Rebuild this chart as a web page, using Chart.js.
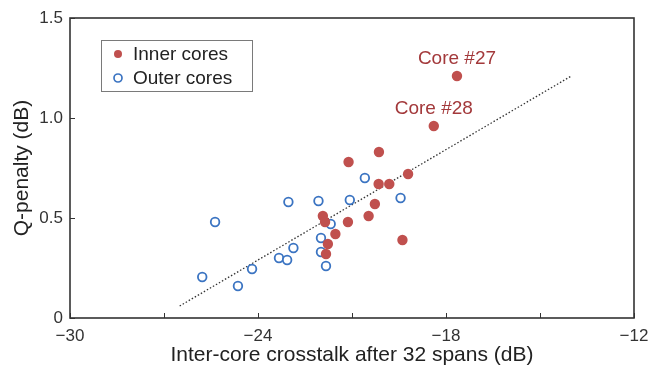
<!DOCTYPE html>
<html>
<head>
<meta charset="utf-8">
<script src="https://cdn.jsdelivr.net/npm/chart.js@4/dist/chart.umd.min.js"></script>
<style>
  html, body { margin: 0; padding: 0; background: #fff; }
  #wrap { width: 651px; height: 369px; position: relative; }
</style>
</head>
<body>
<div id="wrap"><canvas id="c" width="651" height="369" style="width:651px;height:369px"></canvas></div>
<script>
// Inner cores (filled markers)
const innerX = [-17.65, -18.39, -20.14, -21.11, -19.21, -20.15, -19.81, -20.27, -20.47, -21.93, -21.13, -21.86, -21.53, -21.77, -21.83, -19.39];
const innerY = [1.21, 0.96, 0.83, 0.78, 0.72, 0.67, 0.67, 0.57, 0.51, 0.51, 0.48, 0.48, 0.42, 0.37, 0.32, 0.39];

// Outer cores (open markers)
const outerX = [-20.59, -21.07, -19.45, -23.03, -22.07, -25.37, -21.68, -21.99, -22.87, -23.33, -23.07, -21.99, -21.83, -24.19, -25.78, -24.64];
const outerY = [0.70, 0.59, 0.60, 0.58, 0.585, 0.48, 0.47, 0.40, 0.35, 0.30, 0.29, 0.33, 0.26, 0.245, 0.205, 0.16];

// Linear trend across all cores
const trendX = [-26.5, -14.0];
const trendY = [0.06, 1.21];

// Annotated cores (index into the inner-core arrays)
const noteText = ['Core #27', 'Core #28'];
const noteIndex = [0, 1];

// Axis ticks
const xTickValues = [-30, -24, -18, -12];
const xMinorTicks = [-27, -21, -15];
const yTickValues = [0, 0.5, 1.0, 1.5];

const seriesNames = ['Inner cores', 'Outer cores'];

const RED = '#c0504e';
const BLUE = '#3b74c2';
const NOTE = '#a3393b';
const FONT = "'Liberation Sans', Arial, sans-serif";

const zip = (xs, ys) => xs.map((x, i) => ({ x, y: ys[i] }));

const framePlugin = {
  id: 'frame',
  afterDraw(chart) {
    const { ctx, chartArea: a, scales: { x, y } } = chart;
    ctx.save();
    // inward tick marks
    ctx.strokeStyle = '#333';
    ctx.lineWidth = 1;
    [...xTickValues, ...xMinorTicks].forEach(v => {
      const px = Math.round(x.getPixelForValue(v)) + 0.5;
      ctx.beginPath(); ctx.moveTo(px, a.bottom); ctx.lineTo(px, a.bottom - 5); ctx.stroke();
    });
    yTickValues.forEach(v => {
      const py = Math.round(y.getPixelForValue(v)) + 0.5;
      ctx.beginPath(); ctx.moveTo(a.left, py); ctx.lineTo(a.left + 5, py); ctx.stroke();
    });
    // plot frame
    ctx.strokeStyle = '#333';
    ctx.lineWidth = 1.6;
    ctx.strokeRect(a.left, a.top, a.right - a.left, a.bottom - a.top);

    // legend box
    const lx = a.left + 31, ly = a.top + 22, lw = 151, lh = 51;
    ctx.lineWidth = 1;
    ctx.strokeStyle = '#7a7a7a';
    ctx.strokeRect(lx + 0.5, ly + 0.5, lw, lh);
    ctx.font = '19px ' + FONT;
    ctx.textBaseline = 'middle';
    ctx.textAlign = 'left';
    ctx.fillStyle = '#222';
    seriesNames.forEach((name, i) => {
      const cy = ly + 14 + i * 24;
      const cx = lx + 17;
      ctx.beginPath();
      ctx.arc(cx, cy, 4, 0, Math.PI * 2);
      if (i === 0) { ctx.fillStyle = RED; ctx.fill(); }
      else { ctx.strokeStyle = BLUE; ctx.lineWidth = 1.7; ctx.stroke(); }
      ctx.fillStyle = '#222';
      ctx.fillText(name, lx + 32, cy + 1);
    });

    // core annotations above their markers
    ctx.font = '19px ' + FONT;
    ctx.fillStyle = NOTE;
    ctx.textAlign = 'center';
    noteText.forEach((t, i) => {
      const k = noteIndex[i];
      const px = x.getPixelForValue(innerX[k]);
      const py = y.getPixelForValue(innerY[k]);
      ctx.fillText(t, px, py - 17);
    });
    ctx.restore();
  }
};

new Chart(document.getElementById('c'), {
  type: 'scatter',
  data: {
    datasets: [
      {
        label: seriesNames[0],
        data: zip(innerX, innerY),
        backgroundColor: RED,
        borderColor: RED,
        borderWidth: 0,
        pointRadius: 5.2,
        order: 1
      },
      {
        label: seriesNames[1],
        data: zip(outerX, outerY),
        backgroundColor: 'rgba(255,255,255,1)',
        borderColor: BLUE,
        borderWidth: 1.8,
        pointRadius: 4.3,
        order: 2
      },
      {
        type: 'line',
        label: 'Trend',
        data: zip(trendX, trendY),
        borderColor: '#333',
        borderWidth: 1.3,
        borderDash: [1.5, 2],
        pointRadius: 0,
        fill: false,
        order: 3
      }
    ]
  },
  options: {
    responsive: false,
    maintainAspectRatio: false,
    animation: false,
    devicePixelRatio: 1,
    layout: { padding: { top: 18, right: 17, left: 0, bottom: 0 } },
    plugins: { legend: { display: false }, tooltip: { enabled: false } },
    scales: {
      x: {
        type: 'linear',
        min: -30, max: -12,
        afterFit: s => { s.height = 51; s.paddingLeft = 0; s.paddingRight = 0; },
        afterBuildTicks: s => { s.ticks = xTickValues.map(v => ({ value: v })); },
        grid: { display: false, drawTicks: false },
        border: { display: false },
        ticks: {
          padding: 8,
          color: '#333',
          font: { family: FONT, size: 17 },
          callback: v => (v < 0 ? '\u2212' + Math.abs(v) : String(v))
        },
        title: {
          display: true,
          text: 'Inter-core crosstalk after 32 spans (dB)',
          color: '#222',
          font: { family: FONT, size: 21 },
          padding: { top: 0, bottom: 1 }
        }
      },
      y: {
        type: 'linear',
        min: 0, max: 1.5,
        afterFit: s => { s.width = 70; s.paddingTop = 0; s.paddingBottom = 0; },
        afterBuildTicks: s => { s.ticks = yTickValues.map(v => ({ value: v })); },
        grid: { display: false, drawTicks: false },
        border: { display: false },
        ticks: {
          padding: 7,
          color: '#333',
          font: { family: FONT, size: 17 },
          callback: v => (v === 0 ? '0' : v.toFixed(1))
        },
        title: {
          display: true,
          text: 'Q-penalty (dB)',
          color: '#222',
          font: { family: FONT, size: 21 },
          padding: { top: 10, bottom: 0 }
        }
      }
    }
  },
  plugins: [framePlugin]
});
</script>
</body>
</html>
